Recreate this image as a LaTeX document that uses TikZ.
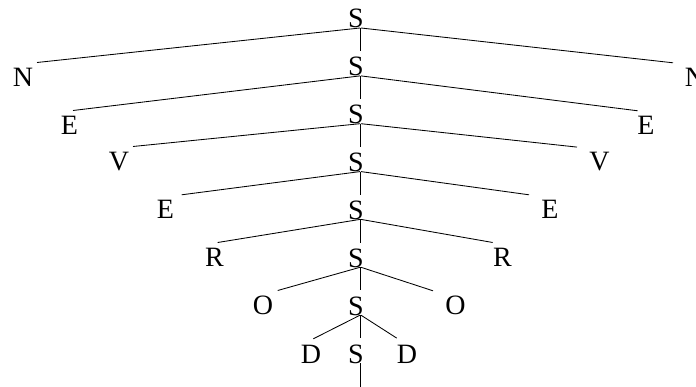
\documentclass[tikz,border=0pt]{standalone}
\usepackage{fontspec}
\setmainfont{Liberation Serif}
\begin{document}
\begin{tikzpicture}[x=1pt,y=-1pt,
  lbl/.style={inner sep=0pt,anchor=base,text height=18pt,text depth=0pt,
              font=\fontsize{28}{32}\selectfont},
  edge/.style={line width=0.85pt,black}]
\useasboundingbox (0,0) rectangle (696,387);

% spine of S nodes
\node[lbl] (s0) at (356,28) {S};
\node[lbl] (s1) at (356,75.9) {S};
\node[lbl] (s2) at (356,123.7) {S};
\node[lbl] (s3) at (356,171.6) {S};
\node[lbl] (s4) at (356,219.4) {S};
\node[lbl] (s5) at (356,267.3) {S};
\node[lbl] (s6) at (356,315.2) {S};
\node[lbl] (s7) at (356,363) {S};
\coordinate (end) at (360.5,387);

% left leaves
\node[lbl] (l1) at (23,87) {N};
\node[lbl] (l2) at (69.5,135) {E};
\node[lbl] (l3) at (119,171) {V};
\node[lbl] (l4) at (165.5,219) {E};
\node[lbl] (l5) at (214.5,267) {R};
\node[lbl] (l6) at (263,315) {O};
\node[lbl] (l7) at (311,363) {D};

% right leaves
\node[lbl] (r1) at (695,87) {N};
\node[lbl] (r2) at (646,135) {E};
\node[lbl] (r3) at (599.5,171) {V};
\node[lbl] (r4) at (550,219) {E};
\node[lbl] (r5) at (502.5,267) {R};
\node[lbl] (r6) at (455.5,315) {O};
\node[lbl] (r7) at (407,363) {D};

% vertical spine
\foreach \a/\b in {s0/s1,s1/s2,s2/s3,s3/s4,s4/s5,s5/s6,s6/s7}
  \draw[edge] ([xshift=4.5pt]\a.base) -- ([xshift=4.5pt,yshift=6.5pt]\b.north);
\draw[edge] ([xshift=4.5pt]s7.base) -- (end);

% branches to the left
\draw[edge] ([xshift=4pt]s0.base) -- ([xshift=14pt,yshift=6.3pt]l1.north);
\draw[edge] ([xshift=4pt]s1.base) -- ([xshift=3.5pt,yshift=6.3pt]l2.north);
\draw[edge] ([xshift=4pt]s2.base) -- ([xshift=14pt,yshift=6.3pt]l3.north);
\draw[edge] ([xshift=4pt]s3.base) -- ([xshift=16.2pt,yshift=6pt]l4.north);
\draw[edge] ([xshift=4pt]s4.base) -- ([xshift=3.2pt,yshift=6.3pt]l5.north);
\draw[edge] ([xshift=4pt]s5.base) -- ([xshift=14.7pt,yshift=6.3pt]l6.north);
\draw[edge] ([xshift=4pt]s6.base) -- ([xshift=2.3pt,yshift=6pt]l7.north);

% branches to the right
\draw[edge] ([xshift=5pt]s0.base) -- ([xshift=-22pt,yshift=6pt]r1.north);
\draw[edge] ([xshift=5pt]s1.base) -- ([xshift=-8.3pt,yshift=6pt]r2.north);
\draw[edge] ([xshift=5pt]s2.base) -- ([xshift=-22.5pt,yshift=5.7pt]r3.north);
\draw[edge] ([xshift=5pt]s3.base) -- ([xshift=-21pt,yshift=6pt]r4.north);
\draw[edge] ([xshift=5pt]s4.base) -- ([xshift=-9.8pt,yshift=6.3pt]r5.north);
\draw[edge] ([xshift=5pt]s5.base) -- ([xshift=-22.5pt,yshift=6pt]r6.north);
\draw[edge] ([xshift=5pt]s6.base) -- ([xshift=-10.3pt,yshift=6.7pt]r7.north);
\end{tikzpicture}
\end{document}
